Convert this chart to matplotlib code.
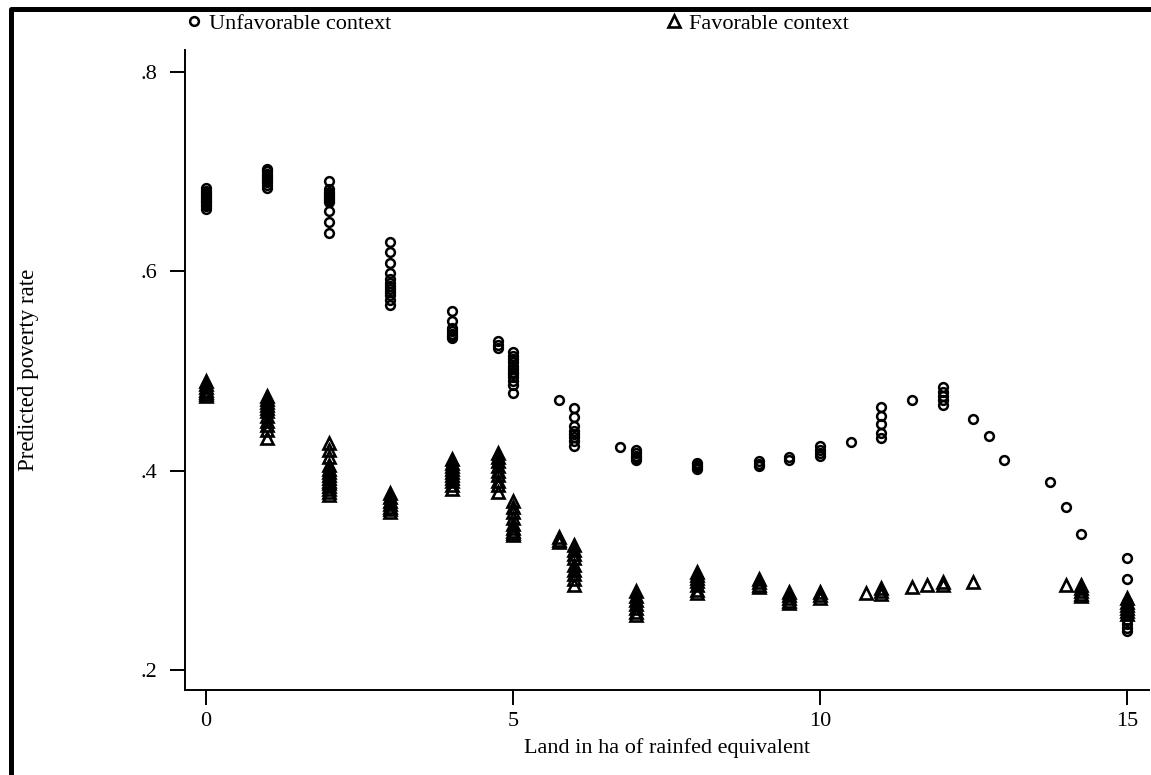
import matplotlib
matplotlib.use("Agg")
import matplotlib.pyplot as plt
from matplotlib.lines import Line2D

plt.rcParams['font.family'] = ['Liberation Serif', 'DejaVu Serif']

# land (ha rainfed equivalent) and predicted poverty rates
unfav_land = [0, 1, 2, 3, 4, 4.75, 5, 5.75, 6, 6.75, 7, 8, 9, 9.5, 10, 10.5,
              11, 11.5, 12, 12.5, 12.75, 13, 13.75, 14, 14.25, 15]
unfav_rate = [
    [0.662, 0.665, 0.667, 0.669, 0.671, 0.673, 0.675, 0.677, 0.679, 0.681, 0.684],
    [0.684, 0.687, 0.690, 0.692, 0.694, 0.696, 0.698, 0.701, 0.703],
    [0.691, 0.683, 0.680, 0.678, 0.676, 0.674, 0.672, 0.669, 0.660, 0.649, 0.638],
    [0.629, 0.619, 0.608, 0.598, 0.592, 0.588, 0.585, 0.582, 0.579, 0.576, 0.571, 0.566],
    [0.560, 0.550, 0.543, 0.540, 0.537, 0.535, 0.533],
    [0.530, 0.526, 0.523],
    [0.519, 0.515, 0.512, 0.509, 0.505, 0.502, 0.499, 0.497, 0.494, 0.490, 0.486, 0.478],
    [0.471],
    [0.463, 0.454, 0.445, 0.440, 0.437, 0.434, 0.430, 0.425],
    [0.424],
    [0.421, 0.418, 0.415, 0.413, 0.411],
    [0.408, 0.406, 0.404, 0.402],
    [0.410, 0.407, 0.405],
    [0.414, 0.411],
    [0.425, 0.421, 0.418, 0.415],
    [0.429],
    [0.464, 0.455, 0.447, 0.438, 0.433],
    [0.471],
    [0.484, 0.479, 0.475, 0.471, 0.466],
    [0.452],
    [0.435],
    [0.411],
    [0.389],
    [0.363],
    [0.336],
    [0.312, 0.291, 0.268, 0.262, 0.255, 0.250, 0.246, 0.242, 0.239],
]

fav_land = [0, 1, 2, 3, 4, 4.75, 5, 5.75, 6, 7, 8, 9, 9.5, 10, 10.75, 11,
            11.5, 11.75, 12, 12.5, 14, 14.25, 15]
fav_rate = [
    [0.490, 0.487, 0.484, 0.481, 0.479, 0.477, 0.475],
    [0.475, 0.472, 0.469, 0.466, 0.463, 0.460, 0.455, 0.450, 0.446, 0.441, 0.433],
    [0.428, 0.421, 0.414, 0.406, 0.402, 0.399, 0.396, 0.393, 0.390, 0.388, 0.385, 0.382, 0.379, 0.376],
    [0.378, 0.374, 0.370, 0.367, 0.364, 0.361, 0.358],
    [0.412, 0.408, 0.405, 0.402, 0.399, 0.396, 0.393, 0.390, 0.386, 0.382],
    [0.418, 0.414, 0.410, 0.405, 0.400, 0.396, 0.390, 0.386, 0.379],
    [0.370, 0.364, 0.358, 0.352, 0.346, 0.342, 0.339, 0.337, 0.335],
    [0.333, 0.330, 0.328],
    [0.325, 0.320, 0.316, 0.312, 0.305, 0.300, 0.296, 0.291, 0.285],
    [0.279, 0.274, 0.270, 0.266, 0.262, 0.258, 0.255],
    [0.298, 0.295, 0.292, 0.289, 0.285, 0.280, 0.277],
    [0.291, 0.288, 0.285, 0.283],
    [0.278, 0.275, 0.272, 0.269, 0.267],
    [0.278, 0.275, 0.272],
    [0.277],
    [0.282, 0.279, 0.276],
    [0.283],
    [0.285],
    [0.288, 0.285],
    [0.288],
    [0.285],
    [0.285, 0.282, 0.279, 0.276, 0.274],
    [0.272, 0.268, 0.265, 0.262, 0.259, 0.256],
]

y_ticks = [0.2, 0.4, 0.6, 0.8]
y_tick_labels = [".2", ".4", ".6", ".8"]
x_ticks = [0, 5, 10, 15]


def flatten(lands, rates):
    xs, ys = [], []
    for x, col in zip(lands, rates):
        for y in col:
            xs.append(x)
            ys.append(y)
    return xs, ys


ux, uy = flatten(unfav_land, unfav_rate)
fx, fy = flatten(fav_land, fav_rate)

circ = dict(linestyle='none', marker='o', markersize=6.3,
            markerfacecolor='none', markeredgecolor='black', markeredgewidth=1.8)
tri = dict(linestyle='none', marker='^', markersize=9.3,
           markerfacecolor='none', markeredgecolor='black', markeredgewidth=1.9)

fig = plt.figure(figsize=(11.51, 7.75), dpi=100)
ax = fig.add_axes([185/1151, 85/775, 964/1151, 640/775])

ax.plot(ux, uy, **circ)
ax.plot(fx, fy, **tri)

ax.set_xlim(-0.342, 15.36)
ax.set_ylim(0.1799, 0.822)

ax.spines['top'].set_visible(False)
ax.spines['right'].set_visible(False)
for s in ['left', 'bottom']:
    ax.spines[s].set_linewidth(1.4)

ax.set_xticks(x_ticks)
ax.set_xticklabels([str(t) for t in x_ticks])
ax.set_yticks(y_ticks)
ax.set_yticklabels(y_tick_labels)
ax.tick_params(axis='both', direction='out', length=10.8, width=1.4, labelsize=16)
ax.tick_params(axis='y', pad=9)
ax.tick_params(axis='x', pad=5)

ax.set_xlabel("Land in ha of rainfed equivalent", fontsize=16, labelpad=5)
ax.set_ylabel("Predicted poverty rate", fontsize=16.5)
ax.yaxis.set_label_coords(-0.151, 0.5)

# legend entries across the top
h1 = Line2D([], [], **circ)
h2 = Line2D([], [], **tri)
fig.legend(handles=[h1], labels=["Unfavorable context"], loc='upper left',
           bbox_to_anchor=(183/1151, 1 - 13/775), frameon=False, fontsize=16,
           borderpad=0, borderaxespad=0, handlelength=1, handletextpad=0.15)
fig.legend(handles=[h2], labels=["Favorable context"], loc='upper left',
           bbox_to_anchor=(663/1151, 1 - 13/775), frameon=False, fontsize=16,
           borderpad=0, borderaxespad=0, handlelength=1, handletextpad=0.15)

# outer frame (left and top edges)
fig.add_artist(Line2D([11/1151, 11/1151, 1], [0, 1 - 9/775, 1 - 9/775],
                      transform=fig.transFigure, color='black', linewidth=3.6))

fig.savefig("out.png", dpi=100)
